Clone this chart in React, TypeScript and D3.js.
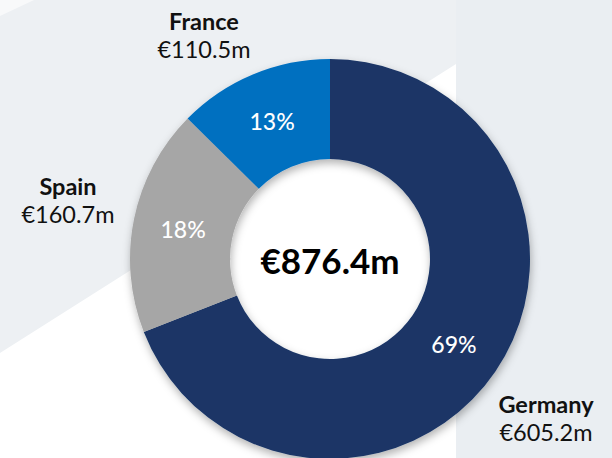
import React, { useMemo } from 'react';
import * as d3 from 'd3';

const countries = ['Germany', 'Spain', 'France'];
const amounts = [605.2, 160.7, 110.5]; // €m
const amountLabels = ['€605.2m', '€160.7m', '€110.5m'];
const sliceColors = ['#1a3566', '#a6a6a6', '#0070c0'];
const totalLabel = '€876.4m';

const WIDTH = 612;
const HEIGHT = 458;

// where each country's name + amount sits, relative to the donut centre
const LABEL_SPOTS: Record<string, { dx: number; dy: number }> = {
  France: { dx: -126, dy: -229 },
  Spain: { dx: -262, dy: -64 },
  Germany: { dx: 216, dy: 154 },
};

export default function App() {
  const cx = 330;
  const cy = 259;
  const outerR = 200;
  const innerR = 100;

  const slices = useMemo(() => {
    const rows = countries.map((c, i) => ({ name: c, value: amounts[i], label: amountLabels[i], color: sliceColors[i] }));
    return d3.pie<any>().sort(null).value(d => d.value)(rows);
  }, []);

  const total = d3.sum(amounts);
  const arc = d3.arc<any>().innerRadius(innerR).outerRadius(outerR);
  const pct = d3.format('.0%');

  const font = 'Lato, "Open Sans", sans-serif';

  return (
    <svg
      width={WIDTH}
      height={HEIGHT}
      style={{ position: 'absolute', left: 0, top: 0, display: 'block' }}
    >
      <defs>
        <filter id="donutShadow" x="-20%" y="-20%" width="140%" height="140%">
          <feDropShadow dx="1" dy="4" stdDeviation="4" floodColor="#000" floodOpacity="0.3" />
        </filter>
      </defs>

      {/* background */}
      <rect x={0} y={0} width={WIDTH} height={HEIGHT} fill="#edf0f3" />
      <polygon points={`0,353 456,64 456,${HEIGHT} 0,${HEIGHT}`} fill="#ffffff" />
      <rect x={456} y={0} width={WIDTH - 456} height={HEIGHT} fill="#eaeef2" />
      <polygon points="0,0 34,0 0,16" fill="#f8f9fa" />

      <g transform={`translate(${cx},${cy})`}>
        <circle r={innerR + 2} fill="#ffffff" />
        <g filter="url(#donutShadow)">
          {slices.map(s => (
            <path key={s.data.name} d={arc(s) as string} fill={s.data.color} />
          ))}
        </g>

        {slices.map(s => {
          const [x, y] = arc.centroid(s);
          return (
            <text
              key={'p' + s.data.name}
              x={x}
              y={y}
              textAnchor="middle"
              dominantBaseline="central"
              fill="#ffffff"
              fontFamily={font}
              fontSize={23}
              fontWeight={500}
            >
              {pct(s.data.value / total)}
            </text>
          );
        })}

        {slices.map(s => {
          const spot = LABEL_SPOTS[s.data.name];
          return (
            <g key={'l' + s.data.name} transform={`translate(${spot.dx},${spot.dy})`} fontFamily={font} fontSize={23.5} textAnchor="middle" fill="#111">
              <text y={0} fontWeight={700}>{s.data.name}</text>
              <text y={28} fontWeight={400}>{s.data.label}</text>
            </g>
          );
        })}

        <text
          y={1}
          textAnchor="middle"
          dominantBaseline="central"
          fontFamily={font}
          fontSize={35}
          fontWeight={700}
          fill="#000"
        >
          {totalLabel}
        </text>
      </g>
    </svg>
  );
}
